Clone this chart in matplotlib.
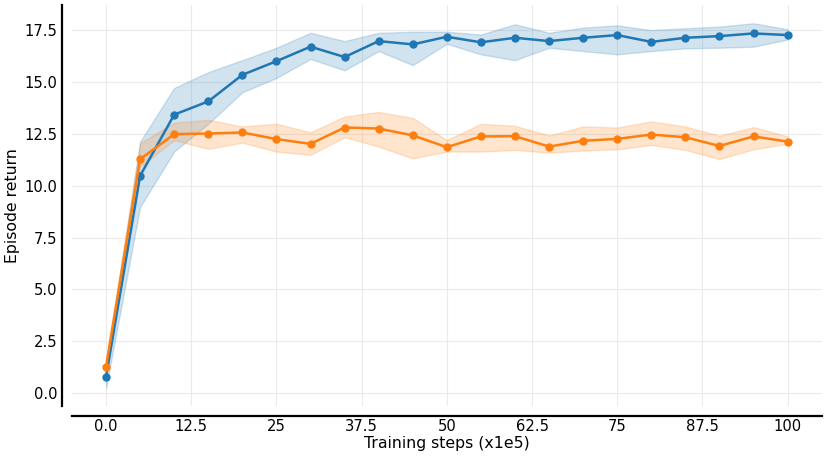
import matplotlib.pyplot as plt
import numpy as np

steps = np.arange(0, 101, 5)

blue_mean = [0.78, 10.48, 13.43, 14.07, 15.35, 16.01, 16.71, 16.21, 16.98, 16.82, 17.19,
             16.92, 17.14, 16.98, 17.14, 17.27, 16.94, 17.14, 17.22, 17.35, 17.27]
blue_lo = [0.25, 8.98, 11.65, 12.99, 14.51, 15.20, 16.12, 15.57, 16.50, 15.82, 16.85,
           16.34, 16.06, 16.66, 16.50, 16.34, 16.50, 16.63, 16.66, 16.71, 17.06]
blue_hi = [1.30, 12.13, 14.72, 15.48, 16.06, 16.66, 17.38, 16.98, 17.38, 17.43, 17.43,
           17.30, 17.79, 17.38, 17.63, 17.74, 17.51, 17.60, 17.68, 17.84, 17.55]

orange_mean = [1.26, 11.28, 12.49, 12.52, 12.57, 12.25, 12.02, 12.81, 12.76, 12.43, 11.86,
               12.38, 12.39, 11.89, 12.17, 12.26, 12.47, 12.34, 11.92, 12.38, 12.13]
orange_lo = [0.90, 10.92, 12.20, 11.78, 12.08, 11.65, 11.49, 12.34, 11.89, 11.32, 11.65,
             11.65, 11.73, 11.60, 11.70, 11.76, 11.97, 11.73, 11.29, 11.76, 12.02]
orange_hi = [1.60, 12.05, 13.05, 13.18, 12.86, 12.99, 12.58, 13.34, 13.56, 13.27, 12.20,
             12.99, 12.89, 12.43, 12.86, 12.81, 13.10, 12.86, 12.41, 12.83, 12.38]

xticks = [0, 12.5, 25, 37.5, 50, 62.5, 75, 87.5, 100]
xtick_labels = ['0.0', '12.5', '25', '37.5', '50', '62.5', '75', '87.5', '100']
yticks = np.arange(0, 17.6, 2.5)

fig = plt.figure(figsize=(8.3, 4.58), dpi=100)
ax = fig.add_axes([0.0867, 0.1135, 0.9033, 0.8755])

ax.fill_between(steps, blue_lo, blue_hi, color='tab:blue', alpha=0.2, linewidth=1)
ax.plot(steps, blue_mean, '-o', color='tab:blue', markersize=5, linewidth=1.8)
ax.fill_between(steps, orange_lo, orange_hi, color='tab:orange', alpha=0.2, linewidth=1)
ax.plot(steps, orange_mean, '-o', color='tab:orange', markersize=5, linewidth=1.8)

ax.set_xticks(xticks)
ax.set_xticklabels(xtick_labels)
ax.set_yticks(yticks)
ax.set_yticklabels([f'{v:.1f}' for v in yticks])
ax.tick_params(length=0, labelsize=10.6)
ax.tick_params(axis='x', pad=2.5)
ax.tick_params(axis='y', pad=3.5)
ax.grid(True, color='#e6e6e6', linewidth=0.8, alpha=0.8)
ax.set_axisbelow(True)

for side in ['top', 'right']:
    ax.spines[side].set_visible(False)
for side in ['left', 'bottom']:
    ax.spines[side].set_position(('outward', 7))
    ax.spines[side].set_linewidth(1.6)

ax.set_xlabel('Training steps (x1e5)', fontsize=11.3)
ax.set_ylabel('Episode return', fontsize=11.3)
ax.xaxis.set_label_coords(0.5, -0.074)
ax.yaxis.set_label_coords(-0.069, 0.5)

plt.savefig('out.png', dpi=100)
